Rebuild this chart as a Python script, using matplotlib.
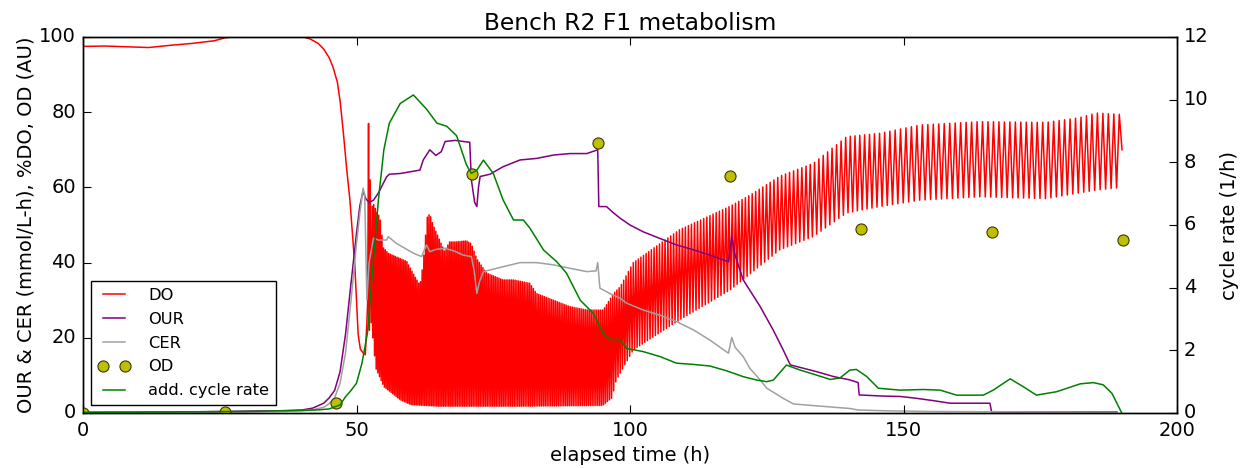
import numpy as np
import matplotlib
matplotlib.use('Agg')
import matplotlib.pyplot as plt

plt.style.use('classic')
plt.rcParams['font.family'] = ['DejaVu Sans']

# ---------------- data ----------------
# DO (%), smooth part before the oscillation starts
do_t = [0, 4, 8, 12, 16, 20, 24, 26, 30, 38, 40.3, 41.5, 43, 44, 45, 45.7,
        46.5, 47.0, 47.6, 48.2, 48.8, 49.3, 49.7, 50.0, 50.3, 50.7, 51.2,
        51.6, 51.9, 52.05, 52.2, 52.35, 52.5, 52.7, 52.9]
do_v = [97.5, 97.6, 97.4, 97.2, 97.8, 98.3, 99.0, 99.8, 100.5, 100.5, 100,
        99.5, 98.3, 96.8, 94.5, 92, 88, 83, 74.5, 65, 56.6, 47, 39, 30, 21,
        17, 16, 15.5, 24, 30, 77, 22, 62, 24, 55]

# DO oscillation: upper envelope (peaks), lower envelope (troughs), period (h)
osc_hi_t = [53, 53.7, 54.3, 54.9, 55.8, 57.3, 59.2, 60.4, 61.6, 62.2, 62.9,
            63.4, 64, 65.2, 66.1, 67, 68.3, 70.1, 71, 72, 73.8, 76.8, 78.7,
            81.7, 82.9, 86, 89, 92.1, 95.1, 97, 98.2, 100.6, 109, 118.3,
            122, 127.4, 133.5, 139.6, 145.7, 153, 164, 176, 182, 185.3, 189.9]
osc_hi = [56, 53.5, 52, 44, 42.5, 41.5, 40.3, 37, 34, 40, 52, 53, 50, 46,
          43, 45.5, 45.5, 45.8, 45, 41, 37.2, 35.4, 35.4, 34.5, 31.8, 30,
          28.3, 27.4, 27.4, 31.8, 33.6, 40, 48.7, 55, 58, 63, 66.4, 73.5,
          74.4, 76.6, 77.5, 77.3, 78.5, 79.8, 79.4]
osc_lo_t = [53, 53.5, 55, 58, 60, 65, 80, 95, 96.7, 97.5, 100.6, 109, 118.3,
            127.4, 133.5, 139.6, 145.7, 153, 164, 176, 185.3, 189.9]
osc_lo = [20, 12, 7, 3.5, 2.2, 1.8, 1.8, 2.0, 4, 8.8, 16.8, 24.7, 32.7, 43.4,
          46.9, 53.2, 54.9, 56.6, 57.5, 57, 59.3, 60]
osc_per_t = [53, 95, 100, 110, 120, 130, 140, 150, 190]
osc_per = [0.3, 0.35, 0.45, 0.55, 0.6, 0.75, 0.85, 1.0, 1.0]
do_end_t, do_end_v = 189.95, 70

# OUR (mmol/L-h)
our_t = [0, 10, 20, 30, 36, 40, 42, 44, 45, 46, 47, 48, 49, 50, 50.6, 51.2,
         51.7, 52.3, 53.1, 54, 55.5, 56, 58, 60, 61.6, 62.2, 63.4, 64.5,
         65.5, 66.2, 68, 70.7, 71, 71.6, 72, 72.3, 72.6, 74.4, 76.8, 79.9,
         82.9, 86, 89, 92.1, 94.1, 94.3, 95.7, 97, 98.2, 100, 102.4, 105.5,
         108.5, 111.6, 114.6, 118, 118.6, 119.2, 120.7, 123.8, 126.2, 128,
         129.3, 131.7, 134.1, 137.2, 140.2, 141.7, 141.9, 146.3, 149.4,
         152.4, 155.4, 158.5, 165.8, 166.1, 170, 180, 189]
our_v = [0.2, 0.2, 0.3, 0.5, 0.6, 0.8, 1.3, 2.6, 4, 6, 11, 21, 34.5, 47.8,
         55, 59, 57, 56, 56.6, 58.5, 62.8, 63.5, 63.7, 64.2, 64.6, 67.3, 70,
         68.5, 69.5, 72.2, 72.5, 72, 62, 56, 54.9, 60, 62.9, 63.5, 65.5,
         67.3, 67.7, 68.6, 69, 69, 70, 54.9, 54.9, 53.2, 51.8, 50, 48.2, 46.4,
         44.7, 43.4, 42, 40.2, 47, 42, 35.4, 28.3, 22, 16.8, 12.8, 11.9, 11,
         9.7, 8.8, 8.1, 4.8, 4.5, 4.4, 3.9, 3.3, 2.6, 2.6, 0.35, 0.3, 0.3,
         0.3]

# CER (mmol/L-h)
cer_t = [0, 10, 20, 30, 36, 40, 42, 44, 45, 46, 47, 48, 49, 50, 50.6, 51.2,
         51.5, 51.9, 52.3, 53.1, 54, 55.5, 55.8, 57.3, 60.4, 61.9, 62.8,
         63.4, 64.5, 66.2, 68, 69.5, 71, 71.5, 72, 72.5, 73.2, 76.8, 79.9,
         82.9, 86, 89, 92.1, 93.8, 94.1, 94.5, 96.3, 98.2, 99.4, 102.4,
         105.5, 108.5, 111.6, 114.6, 118, 118.6, 119.2, 120.7, 121.9, 123.8,
         125, 128, 129.9, 134.1, 140.2, 141.7, 146.3, 155, 170, 189]
cer_v = [0.1, 0.1, 0.2, 0.3, 0.4, 0.6, 0.9, 1.5, 2.5, 4, 8, 16, 30, 45, 53,
         59.8, 58, 30, 40, 46.5, 46, 46, 46.9, 45.1, 42.5, 41.6, 44.7, 42.9,
         43.5, 43.8, 43, 42, 41.6, 38, 31.8, 35, 37.6, 38.9, 40, 40, 39.4,
         38.5, 37.6, 37.8, 40, 33.2, 31.8, 30.5, 29.2, 27.4, 26, 24.3, 22.1,
         19.4, 15.9, 20.1, 17.5, 15, 11.9, 8.8, 6.6, 3.9, 2.4, 1.9, 1.2, 0.8,
         0.6, 0.4, 0.3, 0.2]

# OD (AU)
od_t = [0, 26, 46.2, 71.1, 94.2, 118.2, 142.2, 166.2, 190.2]
od_v = [0, 0.3, 2.6, 63.5, 71.7, 63, 48.9, 48.2, 46]

# additional cycle rate (1/h), right axis
cyc_t = [0, 10, 20, 30, 40, 43, 45, 47, 48, 49, 50, 51, 52, 53, 54, 55, 56,
         58, 60.4, 62.8, 64.7, 66.5, 68.3, 70.1, 71, 72, 73.2, 75, 76.8,
         78.7, 80.5, 81.7, 84.2, 86.6, 88.4, 90.9, 93.3, 95.1, 96.3, 98.2,
         99.4, 102.4, 105.5, 108.5, 111.6, 114.6, 117.6, 120.7, 123.2, 125,
         126.2, 128.6, 131.1, 134.1, 136.6, 138.4, 140.2, 141.4, 143.3,
         145.4, 149.4, 153.6, 156.7, 159.7, 164.6, 166.4, 169.5, 171.9,
         174.3, 178, 182.3, 184.7, 186.5, 188.1, 189.9]
cyc_v = [0.02, 0.03, 0.04, 0.05, 0.08, 0.1, 0.13, 0.26, 0.52, 0.72, 0.95,
         1.59, 2.55, 4.67, 6.8, 8.4, 9.25, 9.88, 10.15, 9.7, 9.25, 9.15, 8.85,
         7.92, 7.65, 7.75, 8.07, 7.65, 6.8, 6.16, 6.16, 5.9, 5.2, 4.83, 4.46,
         3.6, 3.18, 2.54, 2.35, 2.34, 2.06, 1.96, 1.8, 1.59, 1.55, 1.5, 1.35,
         1.16, 1.05, 1.0, 1.05, 1.53, 1.37, 1.21, 1.07, 1.12, 1.37, 1.39,
         1.16, 0.79, 0.73, 0.75, 0.73, 0.57, 0.57, 0.73, 1.09, 0.84, 0.57,
         0.68, 0.93, 0.97, 0.9, 0.63, 0.0]

x_ticks = [0, 50, 100, 150, 200]
y_ticks = [0, 20, 40, 60, 80, 100]
y2_ticks = [0, 2, 4, 6, 8, 10, 12]

# ---------------- build DO trace (smooth part + peak/trough zigzag) ----------
zz_t, zz_v = [], []
t = osc_hi_t[0]
peak = False
while t <= osc_hi_t[-1]:
    zz_t.append(t)
    if peak:
        zz_v.append(np.interp(t, osc_hi_t, osc_hi))
    else:
        zz_v.append(np.interp(t, osc_lo_t, osc_lo))
    peak = not peak
    t += np.interp(t, osc_per_t, osc_per) / 2.0
do_all_t = list(do_t) + zz_t + [do_end_t]
do_all_v = list(do_v) + zz_v + [do_end_v]

# ---------------- figure ----------------
fig = plt.figure(figsize=(12.41, 4.68), dpi=100, facecolor='white')
ax = fig.add_axes([83 / 1241, 1 - 413 / 468, 1094 / 1241, 376 / 468])
ax2 = ax.twinx()

fs = 14
h_do, = ax.plot(do_all_t, do_all_v, color='#ff0000', lw=1.1, label='DO')
h_our, = ax.plot(our_t, our_v, color='purple', lw=1.1, label='OUR')
h_cer, = ax.plot(cer_t, cer_v, color='#a0a0a0', lw=1.1, label='CER')
h_od, = ax.plot(od_t, od_v, 'o', color='#bfbf00', mec='#3a3a00', mew=0.8,
                ms=8, ls='none', label='OD', zorder=5)
h_cyc, = ax2.plot(cyc_t, cyc_v, color='#008000', lw=1.1,
                  label='add. cycle rate')

ax.set_xlim(0, 200)
ax.set_ylim(0, 100)
ax2.set_ylim(0, 12)
ax.set_xticks(x_ticks)
ax.set_yticks(y_ticks)
ax2.set_yticks(y2_ticks)

for a in (ax, ax2):
    a.tick_params(labelsize=fs, direction='in', length=5.5, width=0.8)
ax.tick_params(axis='x', pad=6)
ax.tick_params(axis='y', pad=5)
ax2.tick_params(axis='y', pad=5)

ax.set_xlabel('elapsed time (h)', fontsize=fs, labelpad=4)
ax.set_ylabel('OUR & CER (mmol/L-h), %DO, OD (AU)', fontsize=fs, labelpad=3)
ax2.set_ylabel('cycle rate (1/h)', fontsize=fs, labelpad=8)
ax.set_title('Bench R2 F1 metabolism', fontsize=fs * 1.2, pad=5)

leg = ax2.legend([h_do, h_our, h_cer, h_od, h_cyc],
                 ['DO', 'OUR', 'CER', 'OD', 'add. cycle rate'],
                 loc='lower left', fontsize=11.7, numpoints=2,
                 handlelength=2.0, handletextpad=1.1, labelspacing=0.55,
                 borderaxespad=0.5, borderpad=0.4, fancybox=False)
leg.get_frame().set_edgecolor('black')
leg.get_frame().set_linewidth(1.0)

fig.savefig('out.png', dpi=100, facecolor='white')
